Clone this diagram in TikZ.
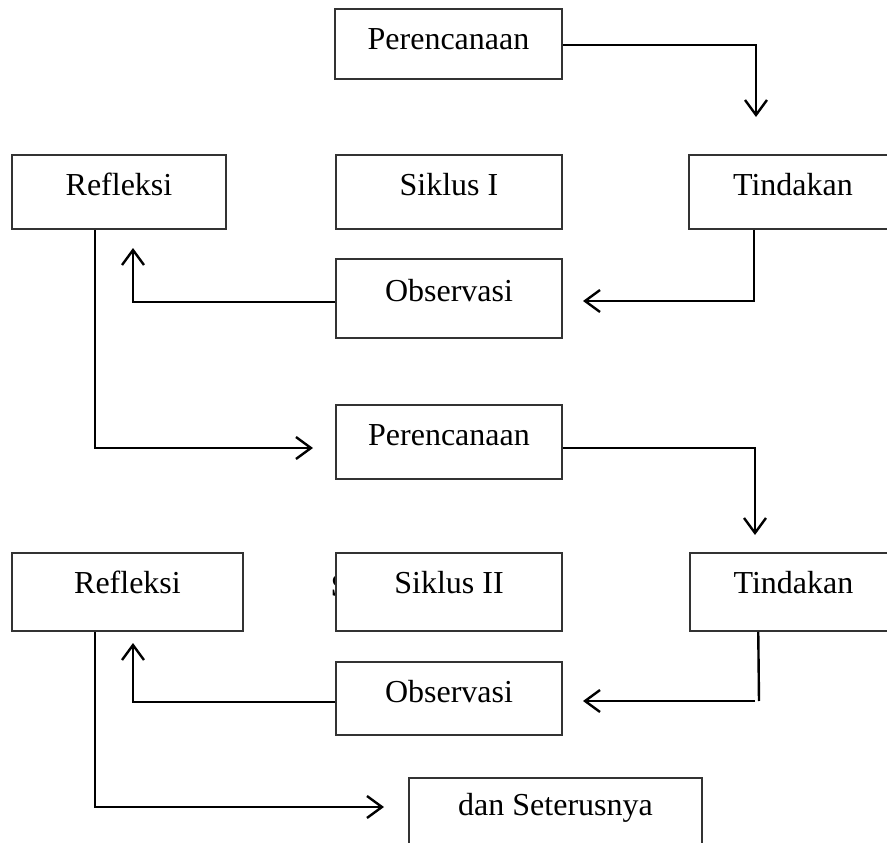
\documentclass[tikz,border=0pt]{standalone}
\usepackage{fontspec}
\setmainfont{Liberation Serif}
\usetikzlibrary{arrows.meta}
\begin{document}
\begin{tikzpicture}[x=1pt,y=1pt,
  box/.style={draw=black!80, line width=1.5pt, fill=white, inner sep=0pt, text height=22pt, font=\fontsize{32}{38}\selectfont},
  conn/.style={line width=2.4pt, -{Straight Barb[length=15pt,width=22pt]}},
  plainline/.style={line width=2.4pt}]
\useasboundingbox (0,0) rectangle (887,-843);
% Cycle I
\node[box, minimum width=227pt, minimum height=70pt, text depth=10pt] (P1) at (448.5,-44) {Perencanaan};
\node[box, minimum width=214pt, minimum height=74pt, text depth=16pt] (R1) at (119,-192) {Refleksi};
\node[box, minimum width=226pt, minimum height=74pt, text depth=16pt] (S1) at (449,-192) {Siklus I};
\node[box, minimum width=208pt, minimum height=74pt, text depth=16pt] (T1) at (793,-192) {Tindakan};
\node[box, minimum width=226pt, minimum height=79pt, text depth=17pt] (O1) at (449,-298.5) {Observasi};
% Cycle II
\node[box, minimum width=226pt, minimum height=74pt, text depth=16pt] (P2) at (449,-442) {Perencanaan};
\node[box, minimum width=231pt, minimum height=78pt, text depth=20pt] (R2) at (127.5,-592) {Refleksi};
\node[font=\fontsize{32}{38}\selectfont\bfseries, anchor=base west, inner sep=0pt] (hs) at (331,-596) {S};
\node[box, minimum width=226pt, minimum height=78pt, text depth=20pt] (S2) at (449,-592) {Siklus II};
\node[box, minimum width=207pt, minimum height=78pt, text depth=20pt] (T2) at (793.5,-592) {Tindakan};
\node[box, minimum width=226pt, minimum height=73pt, text depth=15pt] (O2) at (449,-698.5) {Observasi};
\node[box, minimum width=293pt, minimum height=122pt, text depth=70pt] (D) at (555.5,-839) {dan Seterusnya};
% free ends
\coordinate (a1) at (756,-117);
\coordinate (a2) at (583,-301);
\coordinate (a3) at (133,-248);
\coordinate (a4) at (313,-448);
\coordinate (a5) at (755,-535);
\coordinate (b6) at (759,-701);
\coordinate (c6) at (755,-701);
\coordinate (a6) at (583,-701);
\coordinate (a7) at (133,-643);
\coordinate (a8) at (384,-807);
% connectors
\draw[conn] ([yshift=-1pt]P1.east) -| (a1);
\draw[conn] ([xshift=66pt]T1.south west) |- (a2);
\draw[conn] ([yshift=-3.5pt]O1.west) -| (a3);
\draw[conn] ([xshift=84pt]R1.south west) |- (a4);
\draw[conn] ([yshift=-6pt]P2.east) -| (a5);
\draw[plainline] ([xshift=69pt]T2.south west) -- (b6);
\draw[conn] (c6) -- (a6);
\draw[conn] ([yshift=-3.5pt]O2.west) -| (a7);
\draw[conn] ([xshift=84pt]R2.south west) |- (a8);
\end{tikzpicture}
\end{document}
